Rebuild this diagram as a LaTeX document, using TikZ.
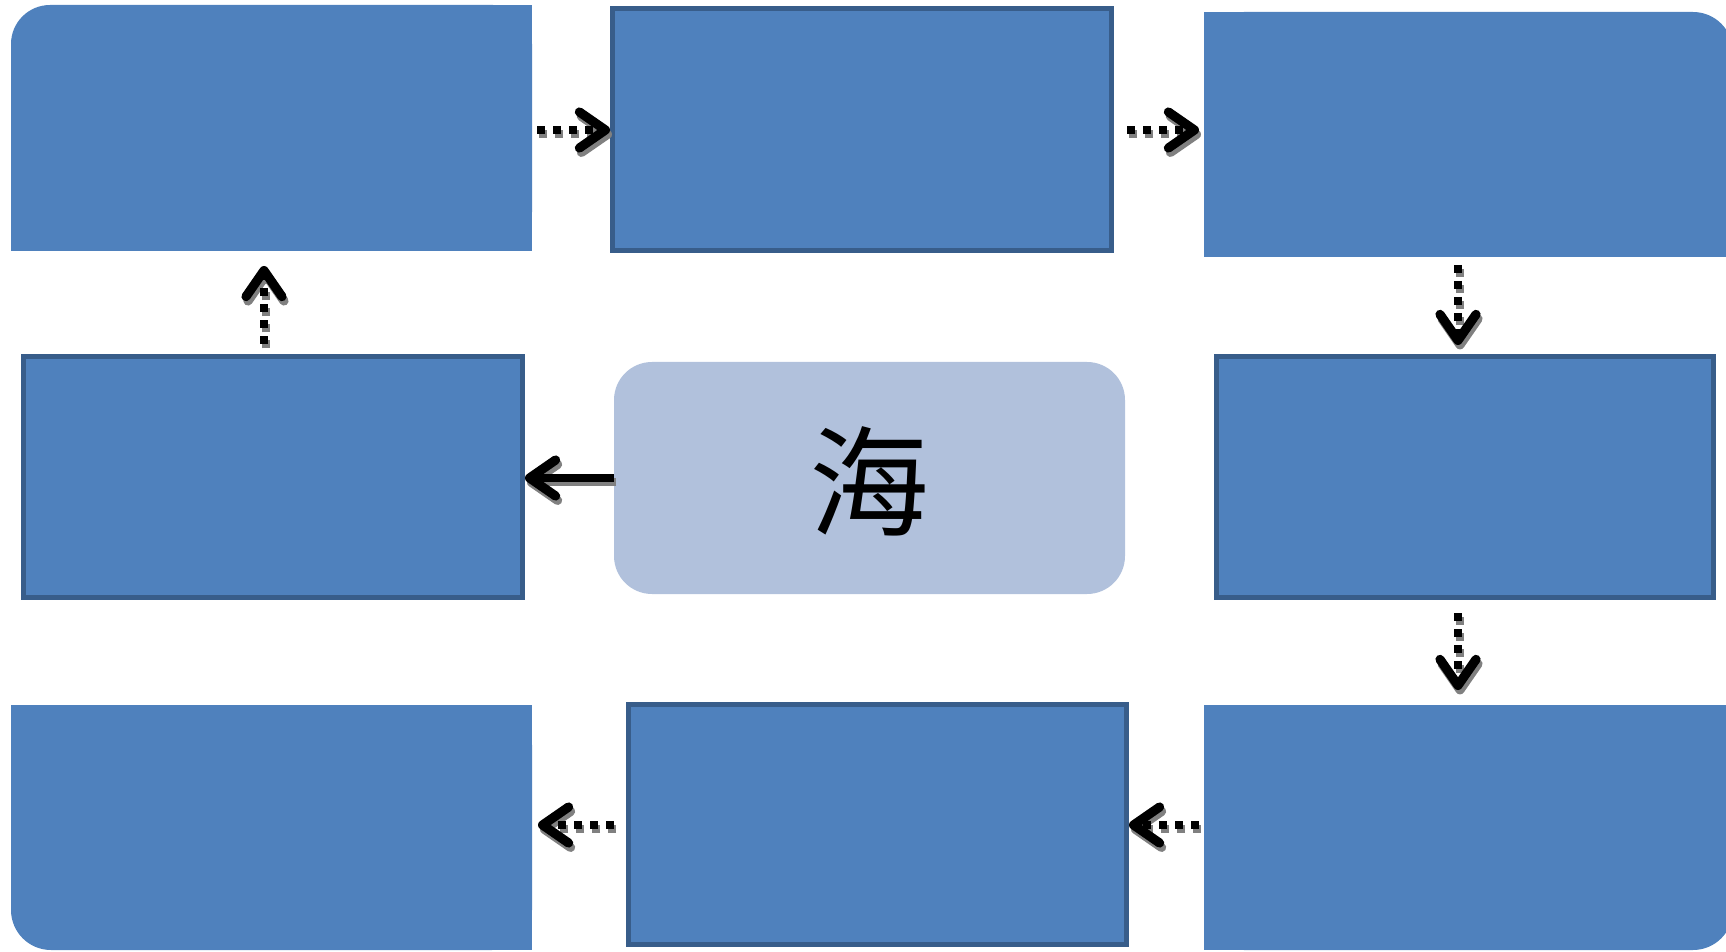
\documentclass[tikz,border=0pt]{standalone}
\usepackage{fontspec}
\newfontfamily\cjk{Noto Sans CJK SC}
\usetikzlibrary{arrows.meta}
\definecolor{bfill}{HTML}{4F81BD}
\definecolor{bline}{HTML}{385D8A}
\definecolor{cfill}{HTML}{B1C1DC}
\tikzset{
  ghost/.style={rectangle, inner sep=0pt, outer sep=0pt, draw=none},
  bordbox/.style={rectangle, inner sep=0pt, fill=bfill, draw=bline, line width=2.5pt},
  cbox/.style={rectangle, inner sep=0pt, outer sep=0pt, fill=cfill, rounded corners=19pt},
  arr/.style={line width=4pt, dash pattern=on 4pt off 4pt,
    -{Straight Barb[length=13pt,width=18pt,line width=4.6pt,round]}},
  arrsolid/.style={line width=4pt,
    -{Straight Barb[length=13pt,width=18pt,line width=4.6pt,round]}},
  arrsh/.style={draw=black!50, transform canvas={shift={(1pt,-2.2pt)}}},
}
\newcommand{\sarrow}[3]{\draw[#1,arrsh] #2 -- #3; \draw[#1] #2 -- #3;}
\begin{document}
\begin{tikzpicture}[x=0.5pt,y=-0.5pt]
\useasboundingbox (0,0) rectangle (1726,952);
% placeholder nodes for the rounded boxes
\node[ghost, minimum width=260.5pt, minimum height=123pt] (b1) at (271.5,128) {};
\node[ghost, minimum width=264.5pt, minimum height=122.5pt] (b3) at (1468.5,134.5) {};
\node[ghost, minimum width=260.5pt, minimum height=122.5pt] (b7) at (271.5,827.5) {};
\node[ghost, minimum width=264.5pt, minimum height=122.5pt] (b9) at (1468.5,827.5) {};
% box 1: top-left corner rounded
\fill[bfill, rounded corners=19.5pt] (b1.south west) rectangle (b1.north east);
\fill[bfill] (b1.south west) rectangle (b1.east);
\fill[bfill] (b1.south) rectangle (b1.north east);
% box 3: top-right corner rounded
\fill[bfill, rounded corners=20pt] (b3.south west) rectangle (b3.north east);
\fill[bfill] (b3.south west) rectangle (b3.east);
\fill[bfill] (b3.south west) rectangle (b3.north);
% box 7: bottom-left corner rounded
\fill[bfill, rounded corners=20pt] (b7.south west) rectangle (b7.north east);
\fill[bfill] (b7.west) rectangle (b7.north east);
\fill[bfill] (b7.south) rectangle (b7.north east);
% box 9: bottom-right corner rounded
\fill[bfill, rounded corners=20pt] (b9.south west) rectangle (b9.north east);
\fill[bfill] (b9.west) rectangle (b9.north east);
\fill[bfill] (b9.south west) rectangle (b9.north);
% bordered boxes
\node[bordbox, minimum width=249.5pt, minimum height=121pt] (b2) at (862,129.5) {};
\node[bordbox, minimum width=249.5pt, minimum height=120.5pt] (b4) at (273,477) {};
\node[bordbox, minimum width=248.5pt, minimum height=120.5pt] (b6) at (1465,477) {};
\node[bordbox, minimum width=249pt, minimum height=120pt] (b8) at (877.5,824.5) {};
% centre
\node[cbox, minimum width=255.5pt, minimum height=116pt] (c) at (869.5,478) {};
\node[ghost, font=\cjk\fontsize{60pt}{60pt}\selectfont] (ct) at (869,481) {海};
% arrow lanes
\coordinate (rowT) at (0,130);
\coordinate (rowM) at (0,478);
\coordinate (rowB) at (0,825);
\coordinate (colL) at (264,0);
\coordinate (colR) at (1458,0);
% arrows
\sarrow{arr, shorten <=2.5pt}{(b1.east |- rowT)}{(b2.west |- rowT)}
\sarrow{arr, shorten <=6.5pt, shorten >=2.5pt}{(b2.east |- rowT)}{(b3.west |- rowT)}
\sarrow{arr, shorten <=4pt, shorten >=4.5pt}{(b3.south -| colR)}{(b6.north -| colR)}
\sarrow{arr, shorten <=6.5pt, shorten >=7.5pt}{(b6.south -| colR)}{(b9.north -| colR)}
\sarrow{arr, shorten <=2.5pt}{(b9.west |- rowB)}{(b8.east |- rowB)}
\sarrow{arr, shorten <=6pt, shorten >=3pt}{(b8.west |- rowB)}{(b7.east |- rowB)}
\sarrow{arr, shorten <=5pt, shorten >=7.5pt}{(b4.north -| colL)}{(b1.south -| colL)}
\sarrow{arrsolid}{(c.west |- rowM)}{(b4.east |- rowM)}
\end{tikzpicture}
\end{document}
